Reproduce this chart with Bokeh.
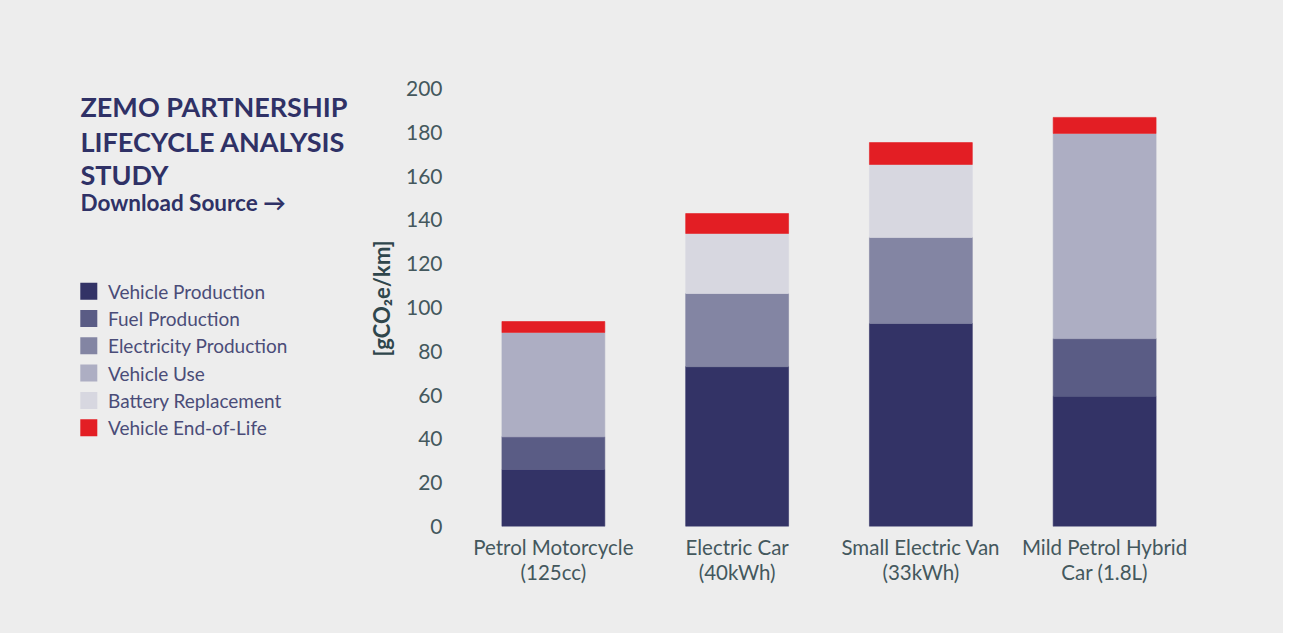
from bokeh.plotting import figure
from bokeh.layouts import row
from bokeh.models import FactorRange, Range1d, FixedTicker
from bokeh.core.properties import value
from bokeh.embed import file_html
from bokeh.resources import INLINE

categories = ["Petrol Motorcycle\n(125cc)", "Electric Car\n(40kWh)",
              "Small Electric Van\n(33kWh)", "Mild Petrol Hybrid\nCar (1.8L)"]
series = ["Vehicle Production", "Fuel Production", "Electricity Production",
          "Vehicle Use", "Battery Replacement", "Vehicle End-of-Life"]
vehicle_production = [26.0, 73.0, 92.7, 59.5]
fuel_production = [15.0, 0.0, 0.0, 26.3]
electricity_production = [0.0, 33.4, 39.3, 0.0]
vehicle_use = [47.6, 0.0, 0.0, 93.7]
battery_replacement = [0.0, 27.4, 33.3, 0.0]
vehicle_end_of_life = [5.0, 9.1, 10.0, 7.3]
y_ticks = [0, 20, 40, 60, 80, 100, 120, 140, 160, 180, 200]
title_lines = ["ZEMO PARTNERSHIP", "LIFECYCLE ANALYSIS", "STUDY"]
link_text = "Download Source \u2192"

colors = ["#333366", "#5a5c85", "#8385a3", "#adaec3", "#d7d7e0", "#e31e24"]
BG = "#ededed"
NAVY = "#2f3166"
FONT = "Lato"

W, H = 1283, 633
LEFT_W = 358
FRAME_TOP, FRAME_BOTTOM = 70, 526       # frame edges (px) shared by both panels
Y200 = 88                               # pixel row of the 200 tick
y_top = 200 * (FRAME_BOTTOM - FRAME_TOP) / (FRAME_BOTTOM - Y200)

# ---------- left panel: title, link, legend (pixel coordinates) ----------
left = figure(width=LEFT_W, height=H, x_range=Range1d(0, LEFT_W),
              y_range=Range1d(FRAME_BOTTOM, FRAME_TOP),
              output_backend="svg", toolbar_location=None,
              min_border_left=0, min_border_right=0,
              min_border_top=FRAME_TOP, min_border_bottom=H - FRAME_BOTTOM)
left.axis.visible = False
left.grid.visible = False
left.outline_line_color = None
left.background_fill_color = None
left.border_fill_color = BG

left.text(x=[80] * 3, y=[106, 140.5, 173.5], text=title_lines,
          text_font=value(FONT), text_font_style="bold", text_font_size="27px",
          text_color=NAVY, text_baseline="alphabetic", text_align="left")
left.text(x=[80], y=[201.5], text=[link_text],
          text_font=value(FONT), text_font_style="bold", text_font_size="22.5px",
          text_color=NAVY, text_baseline="alphabetic", text_align="left")

leg_y = [290.7 + 27.3 * i for i in range(len(series))]
left.rect(x=[88.3] * len(series), y=leg_y, width=17, height=17, width_units="screen",
          height_units="screen", fill_color=colors, line_color=None)
left.text(x=[107.5] * len(series), y=leg_y, text=series,
          text_font=value(FONT), text_font_size="19px", text_color="#4a4c78",
          text_baseline="middle", text_align="left")

# ---------- right panel: the stacked bar chart ----------
data = {"cat": categories}
for name, vals in zip(series, [vehicle_production, fuel_production, electricity_production,
                               vehicle_use, battery_replacement, vehicle_end_of_life]):
    data[name] = vals

p = figure(width=W - LEFT_W, height=H, x_range=FactorRange(*categories, range_padding=0),
           y_range=Range1d(0, y_top), output_backend="svg", toolbar_location=None,
           min_border_left=461 - LEFT_W, min_border_right=W - 1196,
           min_border_top=FRAME_TOP, min_border_bottom=H - FRAME_BOTTOM)
p.background_fill_color = None
p.border_fill_color = BG
p.outline_line_color = None
p.xgrid.visible = False
p.ygrid.visible = False

p.vbar_stack(series, x="cat", width=0.56, fill_color=colors, line_color=colors,
             line_width=0.6, source=data)

p.yaxis.ticker = FixedTicker(ticks=y_ticks)
p.yaxis.axis_line_color = None
p.yaxis.major_tick_line_color = None
p.yaxis.minor_tick_line_color = None
p.yaxis.major_tick_out = 0
p.yaxis.major_label_standoff = 19
p.yaxis.major_label_text_font = FONT
p.yaxis.major_label_text_font_size = "21px"
p.yaxis.major_label_text_color = "#44585d"
p.yaxis.axis_label = "[gCO\u2082e/km]"
p.yaxis.axis_label_text_font = FONT
p.yaxis.axis_label_text_font_style = "bold"
p.yaxis.axis_label_text_font_size = "22px"
p.yaxis.axis_label_text_color = "#2f464c"
p.yaxis.axis_label_standoff = 8

p.xaxis.axis_line_color = None
p.xaxis.major_tick_line_color = None
p.xaxis.major_tick_out = 0
p.xaxis.major_label_standoff = 8
p.xaxis.major_label_text_font = FONT
p.xaxis.major_label_text_font_size = "20.5px"
p.xaxis.major_label_text_color = "#44585d"
p.xaxis.major_label_text_line_height = 1.05

layout = row(left, p, spacing=0, styles={"background-color": BG})
open("out.html", "w").write(file_html(layout, INLINE))
